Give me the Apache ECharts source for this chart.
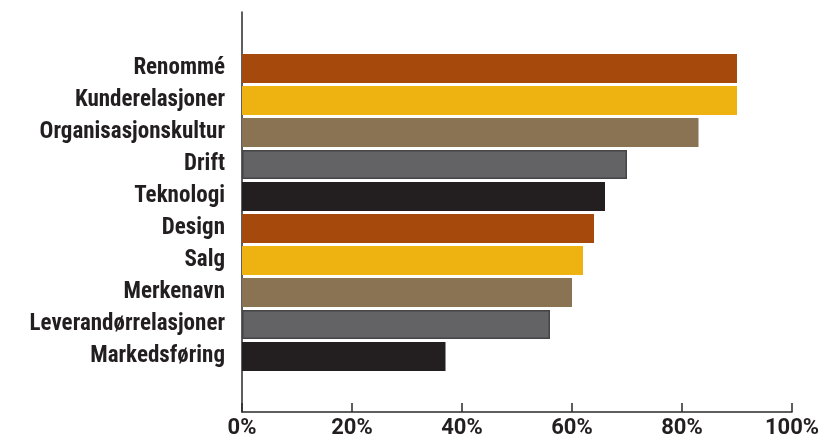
<!DOCTYPE html>
<html>
<head>
<meta charset="utf-8">
<script src="https://cdn.jsdelivr.net/npm/echarts@6/dist/echarts.min.js"></script>
<style>
  html, body { margin: 0; padding: 0; background: #ffffff; }
  #chart { width: 825px; height: 439px; }
</style>
</head>
<body>
<div id="chart"></div>
<script>
// Categories, top to bottom
const categories = [
  'Renommé', 'Kunderelasjoner', 'Organisasjonskultur', 'Drift', 'Teknologi',
  'Design', 'Salg', 'Merkenavn', 'Leverandørrelasjoner', 'Markedsføring'
];
// Share of respondents, percent
const values = [90, 90, 83, 70, 66, 64, 62, 60, 56, 37];
// Axis ticks
const tickValues = [0, 20, 40, 60, 80, 100];
// Repeating bar palette
const palette = ['#A5490D', '#EEB211', '#8A7352', '#636365', '#231F20'];

const LABEL_FONT = '"Roboto Condensed", "Liberation Sans Narrow", sans-serif';
const TICK_FONT = 'Roboto, "Roboto Condensed", sans-serif';
const TEXT = '#231F20';

const chart = echarts.init(document.getElementById('chart'), null, { renderer: 'canvas' });

const barData = values.map((v, i) => {
  const c = palette[i % palette.length];
  const item = { value: v, itemStyle: { color: c } };
  if (c === '#636365') {
    item.itemStyle.borderColor = '#454547';
    item.itemStyle.borderWidth = 1.5;
  }
  return item;
});

chart.setOption({
  animation: false,
  backgroundColor: '#ffffff',
  grid: [
    // bars
    { left: 242, right: 33, top: 52.5, height: 320, outerBoundsMode: 'none', containLabel: false },
    // frame with axis lines
    { left: 242, right: 33, top: 12, bottom: 27, outerBoundsMode: 'none', containLabel: false }
  ],
  xAxis: [
    {
      gridIndex: 0, type: 'value', min: tickValues[0], max: tickValues[tickValues.length - 1],
      interval: 20, show: false, splitLine: { show: false }
    },
    {
      gridIndex: 1, type: 'value', min: tickValues[0], max: tickValues[tickValues.length - 1],
      interval: 20,
      axisLine: { show: true, lineStyle: { color: '#2a2a2a', width: 1.5 } },
      axisTick: { show: true, inside: true, length: 9, lineStyle: { color: '#2a2a2a', width: 1.5 } },
      splitLine: { show: false },
      axisLabel: {
        formatter: '{value}%', margin: 5,
        fontFamily: TICK_FONT, fontWeight: 'bold', fontSize: 22, color: TEXT
      }
    }
  ],
  yAxis: [
    {
      gridIndex: 0, type: 'category', data: categories, inverse: true,
      axisLine: { show: false }, axisTick: { show: false },
      axisLabel: {
        margin: 17, fontFamily: LABEL_FONT, fontWeight: 'bold', fontSize: 23, color: TEXT
      }
    },
    {
      gridIndex: 1, type: 'value', min: 0, max: 1,
      axisLine: { show: true, lineStyle: { color: '#2a2a2a', width: 1.5 } },
      axisTick: { show: false }, axisLabel: { show: false }, splitLine: { show: false }
    }
  ],
  series: [
    {
      type: 'bar', xAxisIndex: 0, yAxisIndex: 0,
      data: barData, barCategoryGap: '9%'
    }
  ]
});
</script>
</body>
</html>
